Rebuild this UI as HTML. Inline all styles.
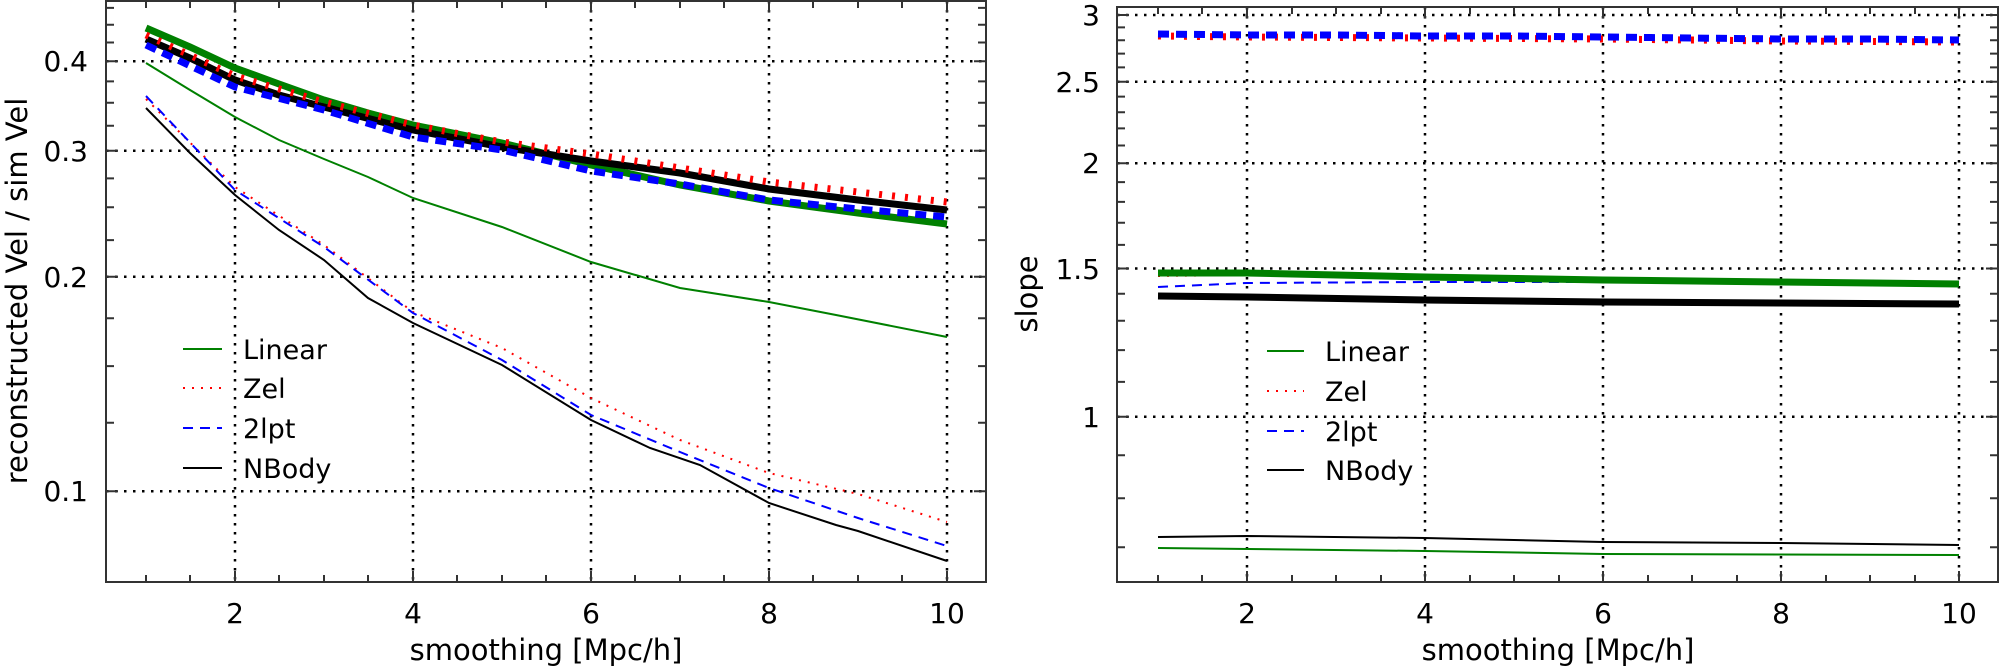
<!DOCTYPE html>
<html><head><meta charset="utf-8"><style>
html,body{margin:0;padding:0;background:#fff;}
svg{display:block;font-family:"DejaVu Sans","Liberation Sans",sans-serif;}
</style></head><body>
<svg width="2000" height="670" viewBox="0 0 2000 670" xmlns="http://www.w3.org/2000/svg">
<rect width="2000" height="670" fill="#fff"/>
<g stroke="#000" stroke-width="2.5" stroke-dasharray="2.5,6.5" fill="none">
<!-- left grid -->
<path d="M235,1V582M413,1V582M591,1V582M769,1V582M947,1V582"/>
<path d="M106,61.3H986M106,150.7H986M106,276.7H986M106,491.3H986"/>
<!-- right grid -->
<path d="M1247,7V582M1425,7V582M1603,7V582M1781,7V582M1959,7V582"/>
<path d="M1117,15H1998M1117,81.7H1998M1117,163.3H1998M1117,268.5H1998M1117,416.8H1998"/>
</g>
<!-- left data thin -->
<g fill="none" stroke-width="2">
<polyline stroke="#008000" points="146,63 190,90 235,117 279,140 324,159 368,177 413,198 502,227 591,262 680,288 769,302 836,315 947,337"/>
<polyline stroke="#ff0000" stroke-dasharray="2,7" points="146,99 235,187 324,245 413,312 502,348 591,398 680,440 769,473 858,494 947,522"/>
<polyline stroke="#0000ff" stroke-dasharray="10,7" points="146,96 235,190 324,247 413,313 502,360 591,415 680,452 769,488 858,518 947,546"/>
<polyline stroke="#000" points="146,108 190,153 235,195 279,230 324,260 368,298 413,323 502,365 591,420 650,448 700,465 769,503 836,525 858,531 947,561"/>
</g>
<g fill="none" stroke-width="7">
<polyline stroke="#008000" points="146,28 190,47 235,68 279,84 324,100 368,113 413,125 502,143 591,165 680,185 769,201 858,213 947,224"/>
<polyline stroke="#000" points="146,39 190,58 235,80 279,95 324,107 413,130 502,147 591,161 680,173 769,189 858,200 947,210"/>
<polyline stroke="#ff0000" stroke-dasharray="3,10" points="146,35 235,76 324,102 413,125 502,142 591,154 680,168 769,182 858,192 947,202"/>
<polyline stroke="#0000ff" stroke-dasharray="11,7" points="146,45 235,87 324,110 413,137 502,150 591,171 680,184 769,200 858,209 947,217"/>
</g>
<!-- right data -->
<g fill="none" stroke-width="2">
<polyline stroke="#ff0000" stroke-dasharray="2,7" points="1158,276 1247,275 1425,278 1603,280 1781,282 1959,283"/>
<polyline stroke="#0000ff" stroke-dasharray="10,7" points="1158,287 1247,283 1425,282 1603,282 1781,283 1959,284"/>
<polyline stroke="#000" points="1158,537 1247,536 1425,538 1603,542 1781,543 1959,545"/>
<polyline stroke="#008000" points="1158,548 1425,551 1603,554 1959,555"/>
</g>
<g fill="none" stroke-width="7">
<polyline stroke="#008000" points="1158,273 1247,273 1425,277 1603,280 1781,282 1959,284"/>
<polyline stroke="#000" points="1158,296 1247,297 1425,300 1603,302 1781,303 1959,304"/>
<polyline stroke="#ff0000" stroke-dasharray="3,10" points="1158,36 1247,37 1425,38 1603,39 1781,41 1959,42"/>
<polyline stroke="#0000ff" stroke-dasharray="11,7" points="1158,34 1247,35 1336,35 1425,36 1514,36 1603,37 1692,38 1781,39 1870,39 1959,40"/>
</g>
<!-- spines and ticks -->
<g fill="none" stroke="#333" stroke-width="2">
<rect x="106" y="1" width="880" height="581"/>
<rect x="1117" y="7" width="881" height="575"/>
<!-- left x major -->
<path d="M235,582v-11M413,582v-11M591,582v-11M769,582v-11M947,582v-11M235,1v11M413,1v11M591,1v11M769,1v11M947,1v11"/>
<!-- left x minor -->
<path d="M146,582v-7M190,582v-7M279,582v-7M324,582v-7M368,582v-7M457,582v-7M502,582v-7M546,582v-7M635,582v-7M680,582v-7M724,582v-7M813,582v-7M858,582v-7M902,582v-7M146,1v7M190,1v7M279,1v7M324,1v7M368,1v7M457,1v7M502,1v7M546,1v7M635,1v7M680,1v7M724,1v7M813,1v7M858,1v7M902,1v7"/>
<!-- left y major -->
<path d="M106,61.3h12M106,150.7h12M106,276.7h12M106,491.3h12M986,61.3h-12M986,150.7h-12M986,276.7h-12M986,491.3h-12"/>
<!-- left y minor -->
<path d="M106,7.9h8M106,24.7h8M106,42.5h8M106,81.4h8M106,102.8h8M106,125.8h8M106,178.4h8M106,207.3h8M106,240.1h8M106,318.2h8M106,366.1h8M106,422.7h8M986,7.9h-8M986,24.7h-8M986,42.5h-8M986,81.4h-8M986,102.8h-8M986,125.8h-8M986,178.4h-8M986,207.3h-8M986,240.1h-8M986,318.2h-8M986,366.1h-8M986,422.7h-8"/>
<!-- right x major -->
<path d="M1247,582v-11M1425,582v-11M1603,582v-11M1781,582v-11M1959,582v-11M1247,7v11M1425,7v11M1603,7v11M1781,7v11M1959,7v11"/>
<!-- right x minor -->
<path d="M1158,582v-7M1202,582v-7M1292,582v-7M1336,582v-7M1381,582v-7M1470,582v-7M1514,582v-7M1559,582v-7M1648,582v-7M1692,582v-7M1737,582v-7M1826,582v-7M1870,582v-7M1915,582v-7M1158,7v7M1202,7v7M1292,7v7M1336,7v7M1381,7v7M1470,7v7M1514,7v7M1559,7v7M1648,7v7M1692,7v7M1737,7v7M1826,7v7M1870,7v7M1915,7v7"/>
<!-- right y major -->
<path d="M1117,15h12M1117,81.7h12M1117,163.3h12M1117,268.5h12M1117,416.8h12M1998,15h-12M1998,81.7h-12M1998,163.3h-12M1998,268.5h-12M1998,416.8h-12"/>
<!-- right y minor -->
<path d="M1117,547.2h8M1117,498.3h8M1117,455.3h8M1117,381.9h8M1117,350.1h8M1117,320.8h8M1117,293.7h8M1117,244.9h8M1117,222.7h8M1117,201.9h8M1117,182.1h8M1117,145.5h8M1117,128.4h8M1117,112.2h8M1117,96.6h8M1117,67.4h8M1117,53.6h8M1117,40.3h8M1117,27.4h8M1998,547.2h-8M1998,498.3h-8M1998,455.3h-8M1998,381.9h-8M1998,350.1h-8M1998,320.8h-8M1998,293.7h-8M1998,244.9h-8M1998,222.7h-8M1998,201.9h-8M1998,182.1h-8M1998,145.5h-8M1998,128.4h-8M1998,112.2h-8M1998,96.6h-8M1998,67.4h-8M1998,53.6h-8M1998,40.3h-8M1998,27.4h-8"/>
</g>
<!-- tick labels -->
<g font-size="28" fill="#000" text-anchor="middle">
<text x="235" y="623">2</text><text x="413" y="623">4</text><text x="591" y="623">6</text><text x="769" y="623">8</text><text x="947" y="623">10</text>
<text x="1247" y="623">2</text><text x="1425" y="623">4</text><text x="1603" y="623">6</text><text x="1781" y="623">8</text><text x="1959" y="623">10</text>
</g>
<g font-size="28" fill="#000" text-anchor="end">
<text x="88" y="71">0.4</text><text x="88" y="161">0.3</text><text x="88" y="287">0.2</text><text x="88" y="501">0.1</text>
<text x="1100" y="25">3</text><text x="1100" y="92">2.5</text><text x="1100" y="173">2</text><text x="1100" y="279">1.5</text><text x="1100" y="427">1</text>
</g>
<g font-size="29" fill="#000" text-anchor="middle">
<text x="546" y="660">smoothing [Mpc/h]</text>
<text x="1558" y="660">smoothing [Mpc/h]</text>
<text transform="translate(27,291) rotate(-90)">reconstructed Vel / sim Vel</text>
<text transform="translate(1037,294) rotate(-90)">slope</text>
</g>
<!-- legends -->
<g fill="none" stroke-width="2">
<path stroke="#008000" d="M183,349H222"/>
<path stroke="#ff0000" stroke-dasharray="2,7" d="M183,388H222"/>
<path stroke="#0000ff" stroke-dasharray="10,7" d="M183,428H222"/>
<path stroke="#000" d="M183,468H222"/>
<path stroke="#008000" d="M1267,351H1304"/>
<path stroke="#ff0000" stroke-dasharray="2,7" d="M1267,391H1304"/>
<path stroke="#0000ff" stroke-dasharray="10,7" d="M1267,431H1304"/>
<path stroke="#000" d="M1267,470H1304"/>
</g>
<g font-size="27" fill="#000">
<text x="243" y="359">Linear</text><text x="243" y="398">Zel</text><text x="243" y="438">2lpt</text><text x="243" y="478">NBody</text>
<text x="1325" y="361">Linear</text><text x="1325" y="401">Zel</text><text x="1325" y="441">2lpt</text><text x="1325" y="480">NBody</text>
</g>
</svg>
</body></html>
